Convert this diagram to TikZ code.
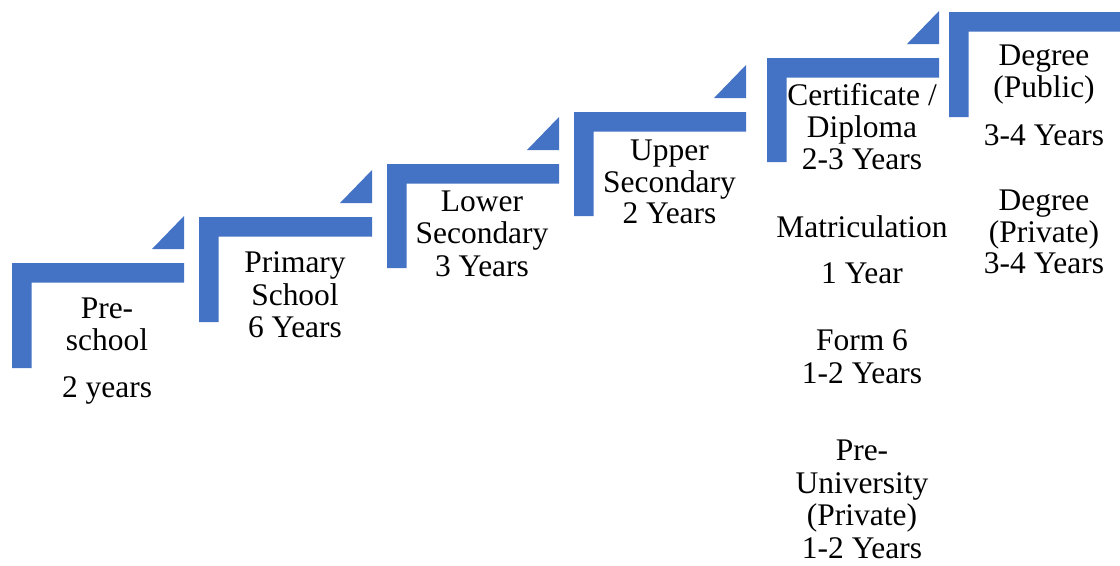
\documentclass[tikz,border=0pt]{standalone}
\usepackage{fontspec}
\setmainfont{Liberation Serif}
\definecolor{stepblue}{HTML}{4472C4}
\newcommand\stepL[5]{% name, L, T, R, B
  \fill[stepblue] (#2,#3) -- (#4,#3) -- (#4,#3+19.5) -- (#2+19.5,#3+19.5) -- (#2+19.5,#5) -- (#2,#5) -- cycle;
}
\newcommand\stepTri[2]{% R, T
  \fill[stepblue] (#1-32,#2-14) -- (#1,#2-14) -- (#1,#2-47) -- cycle;
}
\begin{document}
\begin{tikzpicture}[x=0.75pt,y=-0.75pt,
  lbl/.style={font=\fontsize{23.6}{25}\selectfont, anchor=base, inner sep=0pt}]
\useasboundingbox (0,0) rectangle (1120,565);
% steps
\stepL{s1}{12}{263}{184}{368}  \stepTri{184}{263}
\stepL{s2}{199}{217}{372}{322} \stepTri{372}{217}
\stepL{s3}{387}{164}{559}{268} \stepTri{559}{164}
\stepL{s4}{574}{112}{746}{216} \stepTri{746}{112}
\stepL{s5}{767}{58}{939}{162}  \stepTri{939}{58}
\stepL{s6}{949}{12}{1120}{117}
% step 1
\node[lbl] (a1) at (107,318) {Pre-};
\node[lbl] (a2) at (107,350) {school};
\node[lbl] (a3) at (107,397) {2 years};
% step 2
\node[lbl] (b1) at (295,272) {Primary};
\node[lbl] (b2) at (295,305) {School};
\node[lbl] (b3) at (295,337) {6 Years};
% step 3
\node[lbl] (c1) at (482,211) {Lower};
\node[lbl] (c2) at (482,243) {Secondary};
\node[lbl] (c3) at (482,276) {3 Years};
% step 4
\node[lbl] (d1) at (669.5,160) {Upper};
\node[lbl] (d2) at (669.5,192) {Secondary};
\node[lbl] (d3) at (669.5,223) {2 Years};
% step 5
\node[lbl] (e1) at (862,105) {Certificate /};
\node[lbl] (e2) at (862,137) {Diploma};
\node[lbl] (e3) at (862,169) {2-3 Years};
\node[lbl] (e4) at (862,237) {Matriculation};
\node[lbl] (e5) at (862,283) {1 Year};
\node[lbl] (e6) at (862,350) {Form 6};
\node[lbl] (e7) at (862,383) {1-2 Years};
\node[lbl] (e8) at (862,460) {Pre-};
\node[lbl] (e9) at (862,493) {University};
\node[lbl] (e10) at (862,525) {(Private)};
\node[lbl] (e11) at (862,558) {1-2 Years};
% step 6
\node[lbl] (f1) at (1044,65) {Degree};
\node[lbl] (f2) at (1044,97) {(Public)};
\node[lbl] (f3) at (1044,145) {3-4 Years};
\node[lbl] (f4) at (1044,210) {Degree};
\node[lbl] (f5) at (1044,242) {(Private)};
\node[lbl] (f6) at (1044,273) {3-4 Years};
\end{tikzpicture}
\end{document}
